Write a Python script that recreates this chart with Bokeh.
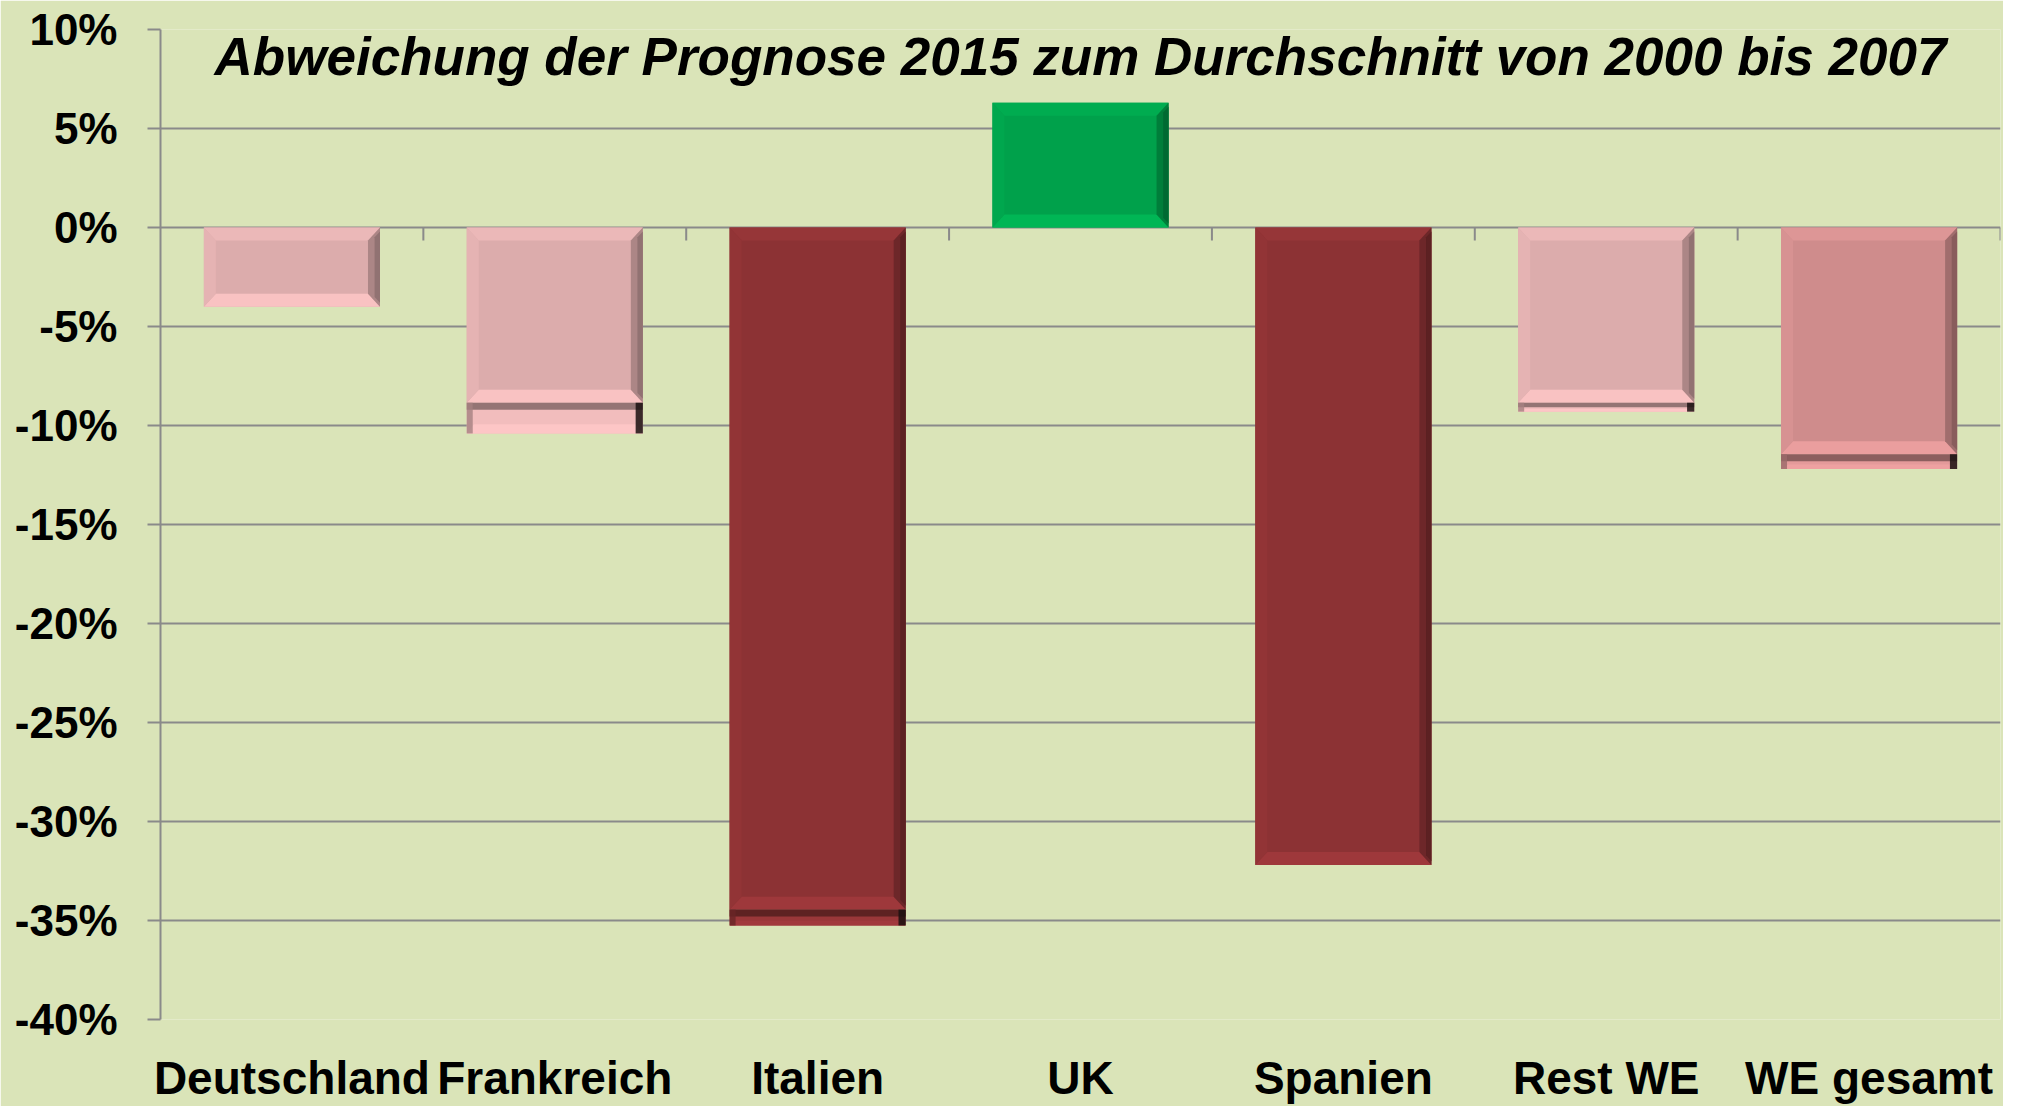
from bokeh.plotting import figure
from bokeh.models import FixedTicker, Range1d, Label
from bokeh.embed import file_html
from bokeh.resources import INLINE

# ---------------- data ----------------
categories = ["Deutschland", "Frankreich", "Italien", "UK", "Spanien", "Rest WE", "WE gesamt"]
# deviation (%) of the 2015 forecast from the 2000-2007 average, drawn as two stacked parts
main_part = [-4.0, -8.85, -34.45, 6.3, -32.2, -8.85, -11.45]
extra_part = [0.0, -1.55, -0.8, 0.0, 0.0, -0.45, -0.75]
y_ticks = [10, 5, 0, -5, -10, -15, -20, -25, -30, -35, -40]
title_text = "Abweichung der Prognose 2015 zum Durchschnitt von 2000 bis 2007"

# ---------------- styles ----------------
BG = "#DAE4B8"
GRID = "#8A8A8A"
bar_colors = ["#DCACAC", "#DCACAC", "#8C3234", "#00A14B", "#8C3234", "#DCACAC", "#CF8C8C"]
FONT = "Liberation Sans"

W, H = 2003, 1106
ML, MR, MT, MB = 160, 3, 29, 84
n = len(categories)
px_x = (W - ML - MR) / n
px_y = (H - MT - MB) / (max(y_ticks) - min(y_ticks))
bx = 12 / px_x
by = 13 / px_y
bar_w = 0.67


def shade(hex_color, f):
    """multiply brightness by f"""
    h = hex_color.lstrip("#")
    r, g, b = (int(h[i:i + 2], 16) * f for i in (0, 2, 4))
    return "#%02x%02x%02x" % tuple(int(round(max(0, min(255, c)))) for c in (r, g, b))


p = figure(width=W, height=H, x_range=Range1d(0, n), y_range=Range1d(min(y_ticks), max(y_ticks)),
           output_backend="svg", toolbar_location=None,
           min_border_left=ML, min_border_right=MR, min_border_top=MT, min_border_bottom=MB)
p.background_fill_color = BG
p.border_fill_color = BG
p.outline_line_color = None

# grid
p.xgrid.visible = False
p.ygrid.ticker = FixedTicker(ticks=y_ticks)
p.ygrid.grid_line_color = GRID
p.ygrid.grid_line_width = 2

# y axis
ya = p.yaxis[0]
ya.ticker = FixedTicker(ticks=y_ticks)
ya.major_label_overrides = {t: f"{t}%" for t in y_ticks}
ya.axis_line_color = GRID
ya.axis_line_width = 2
ya.major_tick_line_color = GRID
ya.major_tick_line_width = 2
ya.major_tick_out = 13
ya.major_tick_in = 0
ya.minor_tick_line_color = None
ya.major_label_standoff = 30
ya.major_label_text_font = FONT
ya.major_label_text_font_style = "bold"
ya.major_label_text_font_size = "44px"
ya.major_label_text_color = "black"

# x axis: labels at category centers, at the bottom
centers = [i + 0.5 for i in range(n)]
xa = p.xaxis[0]
xa.ticker = FixedTicker(ticks=centers)
xa.major_label_overrides = {c: cat for c, cat in zip(centers, categories)}
xa.axis_line_color = None
xa.major_tick_line_color = None
xa.minor_tick_line_color = None
xa.major_label_standoff = 26
xa.major_label_text_font = FONT
xa.major_label_text_font_style = "bold"
xa.major_label_text_font_size = "46px"
xa.major_label_text_color = "black"

# category boundary tick marks on the 0 line
bounds = list(range(1, n + 1))
p.segment(x0=bounds, x1=bounds, y0=[0] * n, y1=[-13 / px_y] * n, line_color=GRID, line_width=2)

# ---------------- bars with bevel ----------------
rect_l, rect_r, rect_t, rect_b, rect_c = [], [], [], [], []
pxs, pys, pcs, palpha = [], [], [], []


def add_patch(xs, ys, c, a=1.0):
    pxs.append(xs); pys.append(ys); pcs.append(c); palpha.append(a)


def bevel(L, R, T, B, color, bxx, byy):
    add_patch([L, R, R - bxx, L + bxx], [T, T, T - byy, T - byy], shade(color, 1.07))
    add_patch([L, R, R - bxx, L + bxx], [B, B, B + byy, B + byy], shade(color, 1.13))
    add_patch([L, L + bxx, L + bxx, L], [T, T - byy, B + byy, B], shade(color, 1.04))
    add_patch([R, R - bxx, R - bxx, R], [T, T - byy, B + byy, B], shade(color, 0.78))
    add_patch([R, R - bxx * 0.45, R - bxx * 0.45, R], [T - byy * 0.3, T - byy * 0.75, B + byy * 0.75, B + byy * 0.3], shade(color, 0.66))


for i, (m, e, col) in enumerate(zip(main_part, extra_part, bar_colors)):
    L, R = centers[i] - bar_w / 2, centers[i] + bar_w / 2
    T, B = max(0, m), min(0, m)
    rect_l.append(L); rect_r.append(R); rect_t.append(T); rect_b.append(B); rect_c.append(col)
    bevel(L, R, T, B, col, bx, by)
    if e != 0:
        T2, B2 = m, m + e
        h = T2 - B2
        rect_l.append(L); rect_r.append(R); rect_t.append(T2); rect_b.append(B2); rect_c.append(shade(col, 1.1))
        # shadow under the upper part
        sh = min(h * 0.5, 7 / px_y)
        add_patch([L, R, R, L], [T2, T2, T2 - sh, T2 - sh], shade(col, 0.6), 0.85)
        # light lower bevel
        bb = min(by, h * 0.3)
        add_patch([L, R, R - bx * 0.6, L + bx * 0.6], [B2, B2, B2 + bb, B2 + bb], shade(col, 1.15))
        # dark left gradient and right end
        add_patch([L, L + bx * 0.5, L + bx * 0.5, L], [T2, T2, B2, B2], shade(col, 0.75), 0.8)
        add_patch([R - bx * 0.6, R, R, R - bx * 0.6], [T2, T2, B2, B2], "#1a1010", 0.85)

p.quad(left=rect_l, right=rect_r, top=rect_t, bottom=rect_b, fill_color=rect_c, line_color=None)
p.patches(xs=pxs, ys=pys, fill_color=pcs, fill_alpha=palpha, line_color=None)

# title inside the plot area
p.add_layout(Label(x=n / 2, y=max(y_ticks) - 27 / px_y, text=title_text, text_align="center",
                   text_baseline="alphabetic", text_font=FONT, text_font_style="bold italic",
                   text_font_size="53px", text_color="black"))

open("out.html", "w").write(file_html(p, INLINE))
